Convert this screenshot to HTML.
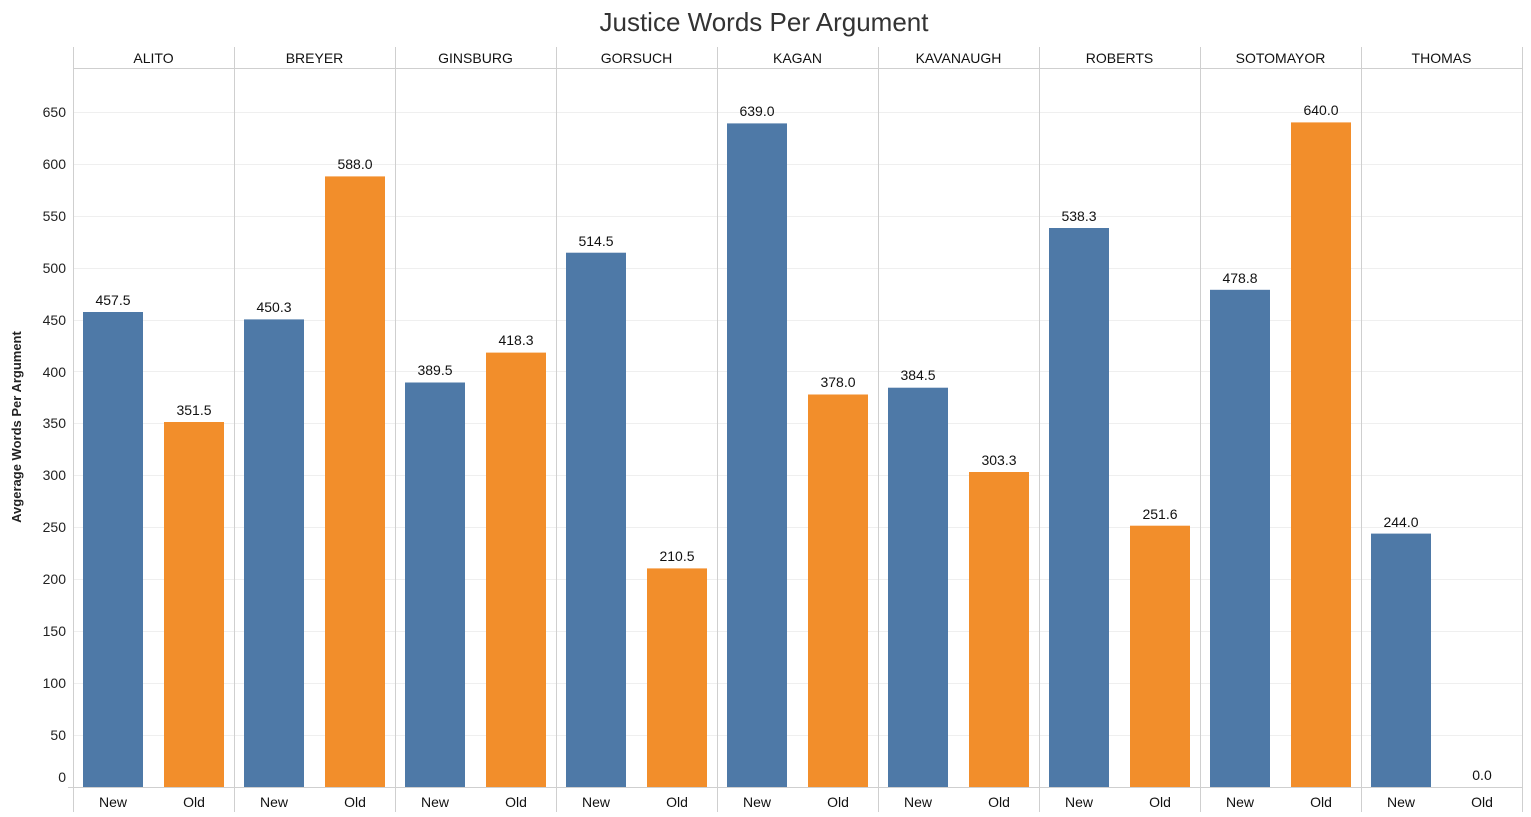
<!DOCTYPE html>
<html><head><meta charset="utf-8"><style>
html,body{margin:0;padding:0;background:#fff;}
svg{display:block;font-family:"Liberation Sans",sans-serif;}
</style></head><body>
<svg width="1531" height="817" viewBox="0 0 1531 817" xmlns="http://www.w3.org/2000/svg">
<text x="764" y="31" text-anchor="middle" font-size="26" fill="#333">Justice Words Per Argument</text>
<g stroke="#efefef" stroke-width="1">
<line x1="73" x2="1522" y1="735.5" y2="735.5"/><line x1="73" x2="1522" y1="683.5" y2="683.5"/><line x1="73" x2="1522" y1="631.5" y2="631.5"/><line x1="73" x2="1522" y1="579.5" y2="579.5"/><line x1="73" x2="1522" y1="527.5" y2="527.5"/><line x1="73" x2="1522" y1="475.5" y2="475.5"/><line x1="73" x2="1522" y1="423.5" y2="423.5"/><line x1="73" x2="1522" y1="371.5" y2="371.5"/><line x1="73" x2="1522" y1="320.5" y2="320.5"/><line x1="73" x2="1522" y1="268.5" y2="268.5"/><line x1="73" x2="1522" y1="216.5" y2="216.5"/><line x1="73" x2="1522" y1="164.5" y2="164.5"/><line x1="73" x2="1522" y1="112.5" y2="112.5"/>
</g>
<g font-size="14" fill="#222" text-anchor="end">
<text x="66" y="782">0</text><text x="66" y="740">50</text><text x="66" y="688">100</text><text x="66" y="636">150</text><text x="66" y="584">200</text><text x="66" y="532">250</text><text x="66" y="480">300</text><text x="66" y="428">350</text><text x="66" y="377">400</text><text x="66" y="325">450</text><text x="66" y="273">500</text><text x="66" y="221">550</text><text x="66" y="169">600</text><text x="66" y="117">650</text>
</g>
<text transform="translate(21,427) rotate(-90)" text-anchor="middle" font-size="13" font-weight="bold" fill="#222">Avgerage Words Per Argument</text>
<g stroke="#cfcfcf" stroke-width="1">
<line x1="73.5" x2="73.5" y1="47" y2="812"/><line x1="234.5" x2="234.5" y1="47" y2="812"/><line x1="395.5" x2="395.5" y1="47" y2="812"/><line x1="556.5" x2="556.5" y1="47" y2="812"/><line x1="717.5" x2="717.5" y1="47" y2="812"/><line x1="878.5" x2="878.5" y1="47" y2="812"/><line x1="1039.5" x2="1039.5" y1="47" y2="812"/><line x1="1200.5" x2="1200.5" y1="47" y2="812"/><line x1="1361.5" x2="1361.5" y1="47" y2="812"/><line x1="1522.5" x2="1522.5" y1="47" y2="812"/>
<line x1="73" x2="1523" y1="68.5" y2="68.5"/>
<line x1="68" x2="1523" y1="787.5" y2="787.5"/>
</g>
<g font-size="14" fill="#111" text-anchor="middle">
<text x="153.5" y="63">ALITO</text><text x="314.5" y="63">BREYER</text><text x="475.5" y="63">GINSBURG</text><text x="636.5" y="63">GORSUCH</text><text x="797.5" y="63">KAGAN</text><text x="958.5" y="63">KAVANAUGH</text><text x="1119.5" y="63">ROBERTS</text><text x="1280.5" y="63">SOTOMAYOR</text><text x="1441.5" y="63">THOMAS</text>
</g>
<g fill="#4e79a7">
<rect x="83" y="312" width="60" height="475"/>
<rect x="244" y="319.4" width="60" height="467.6"/>
<rect x="405" y="382.5" width="60" height="404.5"/>
<rect x="566" y="252.7" width="60" height="534.3"/>
<rect x="727" y="123.4" width="60" height="663.6"/>
<rect x="888" y="387.7" width="60" height="399.3"/>
<rect x="1049" y="228" width="60" height="559"/>
<rect x="1210" y="289.8" width="60" height="497.2"/>
<rect x="1371" y="533.6" width="60" height="253.4"/>
</g>
<g fill="#f28e2b">
<rect x="164" y="422" width="60" height="365"/>
<rect x="325" y="176.4" width="60" height="610.6"/>
<rect x="486" y="352.6" width="60" height="434.4"/>
<rect x="647" y="568.4" width="60" height="218.6"/>
<rect x="808" y="394.5" width="60" height="392.5"/>
<rect x="969" y="472" width="60" height="315"/>
<rect x="1130" y="525.7" width="60" height="261.3"/>
<rect x="1291" y="122.4" width="60" height="664.6"/>
</g>
<g font-size="14" fill="#111" text-anchor="middle">
<text x="113" y="305">457.5</text><text x="194" y="415">351.5</text>
<text x="274" y="312">450.3</text><text x="355" y="169">588.0</text>
<text x="435" y="375">389.5</text><text x="516" y="345">418.3</text>
<text x="596" y="246">514.5</text><text x="677" y="561">210.5</text>
<text x="757" y="116">639.0</text><text x="838" y="387">378.0</text>
<text x="918" y="380">384.5</text><text x="999" y="465">303.3</text>
<text x="1079" y="221">538.3</text><text x="1160" y="519">251.6</text>
<text x="1240" y="283">478.8</text><text x="1321" y="115">640.0</text>
<text x="1401" y="527">244.0</text><text x="1482" y="780">0.0</text>
</g>
<g font-size="14" fill="#111" text-anchor="middle">
<text x="113" y="807">New</text><text x="194" y="807">Old</text>
<text x="274" y="807">New</text><text x="355" y="807">Old</text>
<text x="435" y="807">New</text><text x="516" y="807">Old</text>
<text x="596" y="807">New</text><text x="677" y="807">Old</text>
<text x="757" y="807">New</text><text x="838" y="807">Old</text>
<text x="918" y="807">New</text><text x="999" y="807">Old</text>
<text x="1079" y="807">New</text><text x="1160" y="807">Old</text>
<text x="1240" y="807">New</text><text x="1321" y="807">Old</text>
<text x="1401" y="807">New</text><text x="1482" y="807">Old</text>
</g>
</svg>
</body></html>
